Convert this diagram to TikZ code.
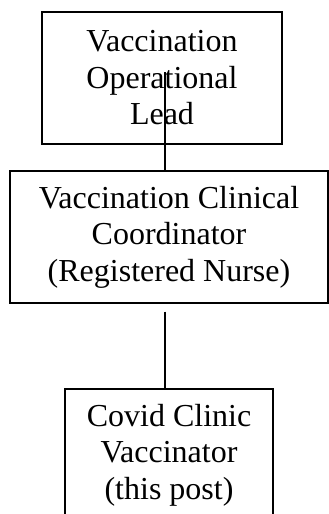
\documentclass[tikz,border=0pt]{standalone}
\usepackage{fontspec}
\setmainfont{Liberation Serif}
\usetikzlibrary{positioning}

\begin{document}
\begin{tikzpicture}[x=1pt, y=-1pt,
  postbox/.style={draw, line width=1.4pt, align=center, inner sep=0pt,
    font=\fontsize{32}{36.5}\selectfont},
  link/.style={line width=1.4pt}]
\useasboundingbox (0,0) rectangle (329,514);
% Cuadro 1: jefe de vacunacion
\node[postbox, minimum width=240pt, minimum height=132pt] (lead) at (162,78)
  {Vaccination\\Operational\\Lead};
% Cuadro 2: coordinador clinico
\node[postbox, minimum width=318pt, minimum height=132pt] (coord) at (169,237)
  {Vaccination Clinical\\Coordinator\\(Registered Nurse)};
% Cuadro 3: vacunador (sigue bajo el borde)
\node[postbox, minimum width=208pt, minimum height=132pt] (vacc) at (169,455)
  {Covid Clinic\\Vaccinator\\(this post)};
% lineas
\draw[link] ([xshift=3pt,yshift=6pt]lead.center) -- ([xshift=-4pt]coord.north);
\draw[link] ([xshift=-4pt,yshift=-8pt]coord.south) -- ([xshift=-4pt]vacc.north);
\end{tikzpicture}
\end{document}
